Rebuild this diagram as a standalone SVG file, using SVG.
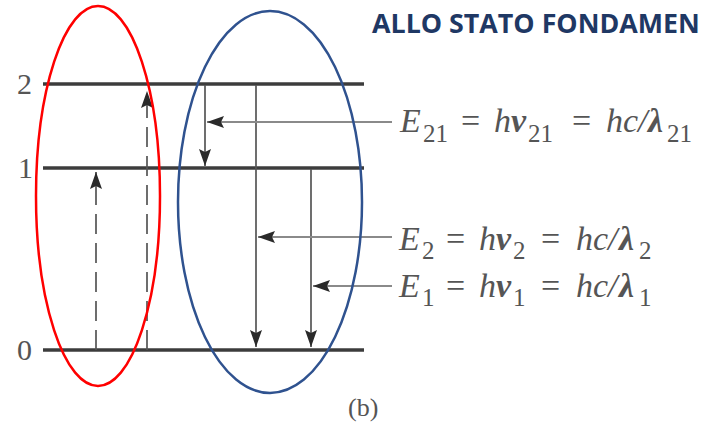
<svg xmlns="http://www.w3.org/2000/svg" width="703" height="429" viewBox="0 0 703 429">
<defs>
<style>
.lvl{stroke:#3c3c3c;stroke-width:3.5;fill:none}
.tr{stroke:#555;stroke-width:1.7;fill:none}
.dash{stroke-dasharray:20,9}
.ptr{stroke:#8a8a8a;stroke-width:2;fill:none}
.num{font-family:"Liberation Serif",serif;font-size:30px;fill:#555}
.eq{font-family:"Liberation Serif",serif;font-size:34px;fill:#555;font-style:italic}
.sub{font-size:25px;font-style:normal}
.bd{font-weight:bold}
.up{font-style:normal}
</style>
<marker id="ah" markerUnits="userSpaceOnUse" markerWidth="17" markerHeight="12" viewBox="0 0 17 12" refX="17" refY="6" orient="auto">
<path d="M0,0 L17,6 L0,12 L3,6 Z" fill="#2a2a2a"/>
</marker>
</defs>
<rect width="703" height="429" fill="#fff"/>
<text x="372" y="33" font-family="'Open Sans','Liberation Sans',sans-serif" font-weight="bold" font-size="26.8" fill="#1f3864">ALLO STATO FONDAMEN</text>
<g id="levels">
<line class="lvl" x1="43" y1="84" x2="364" y2="84"/>
<line class="lvl" x1="43" y1="168" x2="364" y2="168"/>
<line class="lvl" x1="43" y1="350" x2="364" y2="350"/>
<text class="num" x="17" y="94">2</text>
<text class="num" x="18" y="178">1</text>
<text class="num" x="17" y="360">0</text>
</g>
<g id="connectors">
<line class="tr dash" x1="96" y1="350" x2="96" y2="172" marker-end="url(#ah)"/>
<line class="tr dash" x1="147" y1="350" x2="147" y2="91" marker-end="url(#ah)"/>
<line class="tr" x1="205" y1="85" x2="205" y2="166" marker-end="url(#ah)"/>
<line class="tr" x1="256" y1="85" x2="256" y2="347" marker-end="url(#ah)"/>
<line class="tr" x1="311" y1="169" x2="311" y2="347" marker-end="url(#ah)"/>
<line class="ptr" x1="392" y1="122" x2="207" y2="122" marker-end="url(#ah)"/>
<line class="ptr" x1="392" y1="237" x2="258" y2="237" marker-end="url(#ah)"/>
<line class="ptr" x1="392" y1="286" x2="313" y2="286" marker-end="url(#ah)"/>
</g>
<g id="eq21"><text class="eq" y="132"><tspan x="400">E</tspan><tspan class="sub" x="423" y="142">21</tspan><tspan class="up" x="461" y="132">=</tspan><tspan x="494">h</tspan><tspan class="bd" x="511">ν</tspan><tspan class="sub" x="528" y="142">21</tspan><tspan class="up" x="572" y="132">=</tspan><tspan x="606">hc/</tspan><tspan class="bd" x="648">λ</tspan><tspan class="sub" x="667" y="142">21</tspan></text></g>
<g id="eq2"><text class="eq" y="250"><tspan x="399">E</tspan><tspan class="sub" x="422" y="259">2</tspan><tspan class="up" x="446" y="250">=</tspan><tspan x="479">h</tspan><tspan class="bd" x="496">ν</tspan><tspan class="sub" x="513" y="259">2</tspan><tspan class="up" x="541" y="250">=</tspan><tspan x="576">hc/</tspan><tspan class="bd" x="619">λ</tspan><tspan class="sub" x="639" y="259">2</tspan></text></g>
<g id="eq1"><text class="eq" y="297"><tspan x="399">E</tspan><tspan class="sub" x="422" y="306">1</tspan><tspan class="up" x="446" y="297">=</tspan><tspan x="479">h</tspan><tspan class="bd" x="496">ν</tspan><tspan class="sub" x="513" y="306">1</tspan><tspan class="up" x="541" y="297">=</tspan><tspan x="576">hc/</tspan><tspan class="bd" x="619">λ</tspan><tspan class="sub" x="639" y="306">1</tspan></text></g>
<text x="348" y="416" font-family="'Liberation Serif',serif" font-size="26" fill="#555">(b)</text>
<g id="red-ellipse"><ellipse cx="98" cy="196" rx="62" ry="190" fill="none" stroke="#ff0000" stroke-width="2.5"/></g>
<g id="blue-ellipse"><ellipse cx="270" cy="202" rx="92" ry="191" fill="none" stroke="#2f528f" stroke-width="2.5"/></g>
</svg>
